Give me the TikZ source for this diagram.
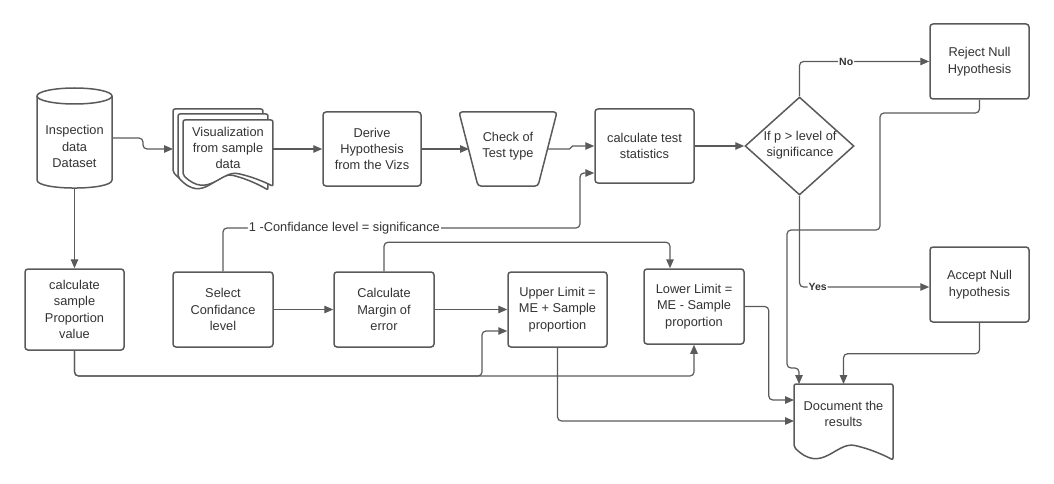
\documentclass[tikz,border=0pt]{standalone}
\usepackage{fontspec}
\setmainfont{Liberation Sans}
\usetikzlibrary{shapes.geometric,arrows.meta,calc}
\definecolor{linec}{HTML}{5A5A5A}
\definecolor{textc}{HTML}{333333}
\newcommand\mainf{\fontsize{12.8}{16.4}\selectfont}
\begin{document}
\begin{tikzpicture}[x=1pt,y=-1pt,
  shapeline/.style={draw=linec, line width=1.5pt},
  box/.style={shapeline, rounded corners=3pt, fill=white, minimum width=99pt, minimum height=75pt, inner sep=0pt, align=center, text=textc, font=\mainf},
  plain/.style={inner sep=0pt, outer sep=0pt},
  txt/.style={align=center, text=textc, font=\mainf, inner sep=0pt},
  conn/.style={draw=linec, line width=1.2pt, rounded corners=4pt, -{Triangle[length=9pt,width=7.5pt]}},
  lbl/.style={fill=white, inner sep=1pt, text=textc, font=\fontsize{10.5}{12}\selectfont\bfseries},
  siglbl/.style={fill=white, inner sep=1pt, text=textc, font=\mainf},
  docshape/.pic={
    \draw[shapeline, fill=white, rounded corners=2pt]
      (0,63) -- (0,0) -- (99,0) -- (99,76)
      .. controls (88,70) and (75,65) .. (63,62)
      .. controls (42,57) and (28,91) .. (0,63) -- cycle;
  }
]
\useasboundingbox (0,0) rectangle (1054,484);

% cylinder
\node[plain, minimum width=75pt, minimum height=100pt] (cyl) at (74.5,138) {};
\draw[shapeline, fill=white] (37,96) -- (37,180) .. controls (37,190.7) and (112,190.7) .. (112,180) -- (112,96);
\draw[shapeline, fill=white] (74.5,96) ellipse [x radius=37.5pt, y radius=8pt];
\node[txt] at (74.5,146.5) {Inspection\\data\\Dataset};

% multi document
\pic[xscale=0.909] at (173,109) {docshape};
\pic[xscale=0.909] at (178,114) {docshape};
\pic[xscale=0.909, yscale=0.873] at (183,120) {docshape};
\node[plain, minimum width=90pt, minimum height=68pt] (vis) at (228,154) {};
\node[txt] at (228,148) {Visualization\\from sample\\data};
\coordinate (visL) at (173,149);

% derive
\node[box, minimum width=98pt, minimum height=74pt] (derive) at (372,149) {Derive\\Hypothesis\\from the Vizs};

% trapezoid
\node[plain, minimum width=98pt, minimum height=74pt] (check) at (508,149) {};
\draw[shapeline, fill=white, rounded corners=3pt] (459,112) -- (557,112) -- (538,186) -- (478,186) -- cycle;
\node[txt] at (508,146) {Check of\\Test type};

% calc test
\node[box, minimum height=74pt] (calc) at (644.5,146) {calculate test\\statistics};

% diamond
\node[diamond, shapeline, fill=white, minimum width=109pt, minimum height=98pt, inner sep=0pt] (dia) at (799.5,146) {};
\node[txt] at (800,145) {If p > level of\\significance};

% reject / accept
\node[box] (reject) at (979.5,61.5) {Reject Null\\Hypothesis};
\node[box] (accept) at (979.5,284.5) {Accept Null\\hypothesis};

% bottom row
\node[box, minimum height=81pt] (samp) at (74.5,309.5) {calculate\\sample\\Proportion\\value};
\node[box, minimum width=100pt] (select) at (223,309.5) {Select\\Confidance\\level};
\node[box, minimum width=100pt] (margin) at (384,309.5) {Calculate\\Margin of\\error};
\node[box] (upper) at (557.5,309.5) {Upper Limit =\\ME + Sample\\proportion};
\node[box, minimum width=100pt] (lower) at (694,306.5) {Lower Limit =\\ME - Sample\\proportion};

% document the results
\pic at (794,384) {docshape};
\node[plain, minimum width=99pt, minimum height=63pt] (doc) at (843.5,415.5) {};
\node[txt] at (843.5,414) {Document the\\results};

% connectors
\draw[conn] (cyl.east) -- ++(31,0) |- (visL);
\draw[conn] ([yshift=5pt]vis.east) -- (derive.west);
\draw[conn] (derive.east) -- ([xshift=10pt]check.west);
\draw[conn, rounded corners=1.5pt] ([xshift=-10pt]check.east) -- ++(24,0) |- (calc.west);
\draw[conn] (calc.east) -- (dia.west);
\draw[conn] (dia.north) |- node[lbl, pos=0.68] {No} (reject.west);
\draw[conn] (dia.south) |- node[lbl, pos=0.57] {Yes} ([yshift=-2.5pt]accept.west);
\draw[conn] (reject.south) |- (880,113) |- (787,230) |- (799,368) -- ([xshift=5pt]doc.north west);
\draw[conn] (accept.south) -- ++(0,31) -| (doc.north);
\draw[conn] (cyl.south) -- (samp.north);
\draw[conn] (samp.south) |- (482,376) |- ([yshift=-21.5pt]upper.west);
\draw[conn] (samp.south) |- (694,376) -- (lower.south);
\draw[conn] (select.north) |- node[siglbl, pos=0.67] {1 -Confidance level = significance} (580,228) |- ([yshift=-27pt]calc.west);
\draw[conn] (select.east) -- (margin.west);
\draw[conn] (margin.north) -- ++(0,-29) -| ([xshift=-24pt]lower.north);
\draw[conn] (margin.east) -- (upper.west);
\draw[conn] (lower.east) -- ++(24,0) |- ([yshift=15.5pt]doc.west);
\draw[conn] (upper.south) |- ([yshift=-5.5pt]doc.west);
\end{tikzpicture}
\end{document}
